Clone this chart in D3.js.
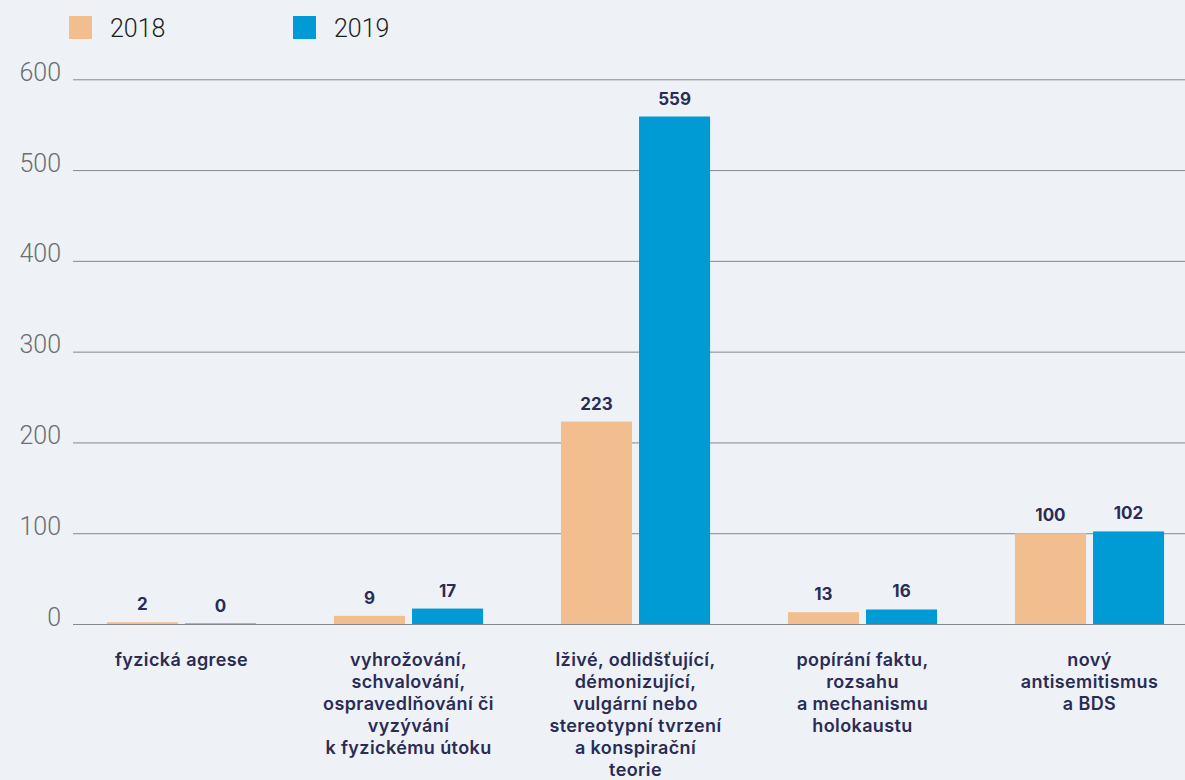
<!DOCTYPE html>
<html>
<head>
<meta charset="utf-8">
<script src="https://cdn.jsdelivr.net/npm/d3@7"></script>
<style>
  html, body { margin: 0; padding: 0; background: #eef2f6; }
  svg { display: block; }
</style>
</head>
<body>
<svg id="chart" width="1185" height="780"></svg>
<script>
const categories = [
  ["fyzická agrese"],
  ["vyhrožování,", "schvalování,", "ospravedlňování či", "vyzývání", "k fyzickému útoku"],
  ["lživé, odlidšťující,", "démonizující,", "vulgární nebo", "stereotypní tvrzení", "a konspirační", "teorie"],
  ["popírání faktu,", "rozsahu", "a mechanismu", "holokaustu"],
  ["nový", "antisemitismus", "a BDS"]
];
const seriesNames = ["2018", "2019"];
const values2018 = [2, 9, 223, 13, 100];
const values2019 = [0, 17, 559, 16, 102];
const yTicks = [0, 100, 200, 300, 400, 500, 600];
const colors = ["#f2bd8f", "#009bd4"];

const svg = d3.select("#chart");
const W = 1185, H = 780;
const y = d3.scaleLinear().domain([0, 600]).range([624, 79.3]);
const x0 = d3.scaleBand().domain(d3.range(categories.length)).range([68, 1203])
  .paddingInner(0.343).paddingOuter(0.1715);
const x1 = d3.scaleBand().domain(seriesNames).range([0, x0.bandwidth()]).paddingInner(0.09);

svg.append("rect").attr("width", W).attr("height", H).attr("fill", "#eef2f6");

// grid + y axis
const yAxis = d3.axisLeft(y).tickValues(yTicks).tickSize(-(1185 - 73)).tickPadding(12);
const gy = svg.append("g").attr("transform", "translate(73,0)").call(yAxis);
gy.select(".domain").remove();
gy.selectAll(".tick line").attr("stroke", "#85888c").attr("stroke-width", 1);
gy.selectAll(".tick text")
  .attr("fill", "#6b6d70")
  .attr("font-family", "Roboto, sans-serif")
  .attr("font-weight", 300)
  .attr("font-size", 25)
  .attr("dy", 0)
  .attr("y", 1);

// bars
const data = categories.map((c, i) => ({ i, vals: [values2018[i], values2019[i]] }));
const groups = svg.append("g").selectAll("g").data(data).join("g")
  .attr("transform", d => `translate(${x0(d.i)},0)`);

groups.selectAll("rect").data(d => d.vals.map((v, k) => ({ v, k })))
  .join("rect")
  .attr("x", d => x1(seriesNames[d.k]))
  .attr("width", x1.bandwidth())
  .attr("y", d => Math.min(y(d.v), y(0) - 1))
  .attr("height", d => Math.max(y(0) - y(d.v), 1))
  .attr("fill", d => colors[d.k])
  .attr("opacity", d => d.v === 0 ? 0.5 : 1);

groups.selectAll("text.val").data(d => d.vals.map((v, k) => ({ v, k })))
  .join("text")
  .attr("class", "val")
  .attr("x", d => x1(seriesNames[d.k]) + x1.bandwidth() / 2)
  .attr("y", d => y(d.v) - 12)
  .attr("text-anchor", "middle")
  .attr("font-family", "Inter, sans-serif")
  .attr("font-weight", 700)
  .attr("font-size", 17)
  .attr("fill", "#2a2c55")
  .text(d => d.v);

// category labels
const labels = svg.append("g").selectAll("text").data(categories).join("text")
  .attr("text-anchor", "middle")
  .attr("font-family", "Inter, sans-serif")
  .attr("font-weight", 600)
  .attr("font-size", 18)
  .attr("letter-spacing", 0.4)
  .attr("fill", "#2a2c55")
  .attr("transform", (d, i) => `translate(${x0(i) + x0.bandwidth() / 2},666)`);
labels.selectAll("tspan").data(d => d).join("tspan")
  .attr("x", 0)
  .attr("y", (d, j) => j * 22)
  .text(d => d);

// legend
const legendX = [69, 293];
const lg = svg.append("g").selectAll("g").data(seriesNames).join("g")
  .attr("transform", (d, i) => `translate(${legendX[i]},16)`);
lg.append("rect").attr("width", 23).attr("height", 23).attr("fill", (d, i) => colors[i]);
lg.append("text").attr("x", 41).attr("y", 21)
  .attr("font-family", "Roboto, sans-serif").attr("font-weight", 300)
  .attr("font-size", 25).attr("fill", "#1e1e1e").text(d => d);
</script>
</body>
</html>
